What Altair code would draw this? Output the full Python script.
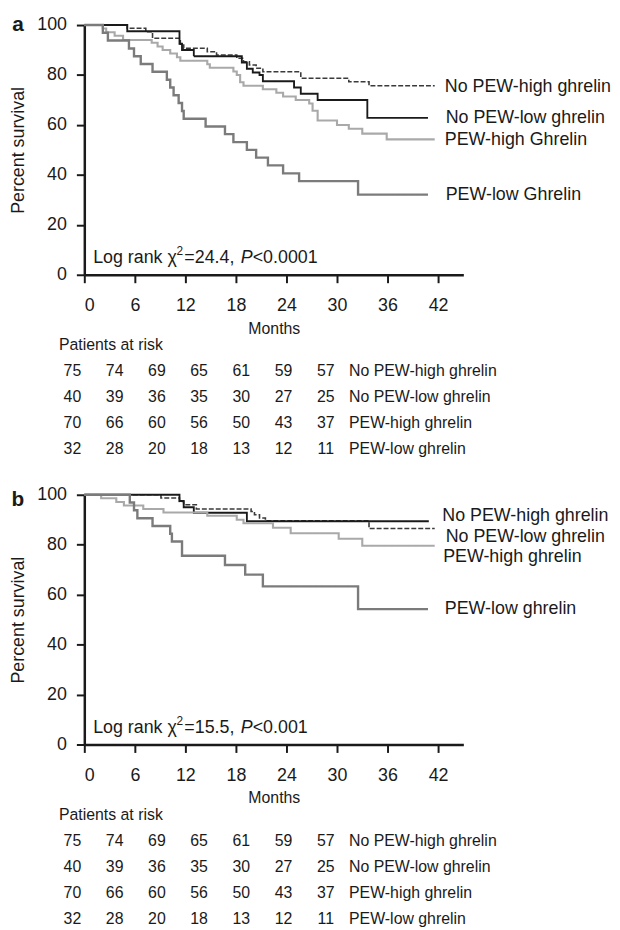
import altair as alt
import pandas as pd

FONT = "Liberation Sans, Arial, Helvetica, sans-serif"
INK = "#1a1a1a"

# ---------------- data ----------------
keys = ["nph", "npl", "ph", "pl"]
colors = ["#3a3a3a", "#1a1a1a", "#a9a9a9", "#7b7b7b"]
dashes = [[5, 2], [1, 0], [1, 0], [1, 0]]
widths = [1.6, 2.4, 2.4, 2.0]

# Panel a (Kaplan-Meier steps: month, percent survival)
a_nph_t = [0, 5.1, 7.3, 8.1, 11.4, 11.8, 14.6, 15.7, 18.1, 18.9, 19.6, 20.4, 21.2, 25.7, 31.4, 33.8, 41.6]
a_nph_s = [100, 98.7, 97.3, 94.7, 92.0, 90.7, 89.3, 88.0, 86.7, 85.3, 84.0, 82.7, 81.3, 78.7, 77.3, 75.7, 75.7]
a_npl_t = [0, 5.1, 11.3, 11.6, 13.0, 18.7, 19.3, 20.0, 20.8, 21.2, 24.9, 25.7, 27.7, 33.6, 40.8]
a_npl_s = [100, 97.5, 92.5, 90.0, 87.5, 85.0, 82.5, 81.0, 80.0, 77.5, 75.0, 72.5, 70.0, 62.8, 62.8]
a_ph_t = [0, 2.2, 2.6, 3.6, 4.6, 8.0, 8.7, 9.3, 10.2, 11.0, 11.4, 14.6, 14.9, 17.7, 18.1, 18.5, 18.9,
          21.2, 22.8, 23.6, 25.1, 26.7, 27.1, 27.7, 30.0, 31.4, 33.0, 35.9, 41.6]
a_ph_s = [100, 98.6, 97.1, 95.7, 94.0, 92.9, 91.4, 90.0, 88.6, 87.1, 85.7, 84.3, 82.9, 81.4, 80.0, 77.1, 75.7,
          74.3, 72.9, 71.4, 70.0, 68.6, 65.7, 61.8, 60.0, 58.5, 56.5, 54.2, 54.2]
a_pl_t = [0, 2.2, 2.8, 5.3, 5.9, 6.7, 8.1, 9.8, 10.2, 10.6, 11.2, 11.6, 11.8, 14.4, 16.7, 17.7, 19.3,
          20.4, 21.8, 23.6, 25.5, 32.5, 40.8]
a_pl_s = [100, 96.9, 93.8, 90.6, 87.5, 84.4, 81.3, 78.1, 75.0, 71.9, 68.8, 65.6, 62.5, 59.4, 56.3, 53.1, 50.0,
          46.9, 43.8, 40.6, 37.5, 32.1, 32.1]

# Panel b
b_nph_t = [0, 9.1, 11.3, 11.8, 13.3, 19.8, 20.2, 20.8, 21.5, 33.8, 41.6]
b_nph_s = [100, 98.7, 97.3, 96.0, 94.3, 93.3, 92.0, 90.7, 89.6, 86.5, 86.5]
b_npl_t = [0, 11.3, 11.8, 13.0, 19.3, 40.9]
b_npl_s = [100, 97.5, 95.0, 92.8, 89.4, 89.4]
b_ph_t = [0, 2.0, 3.8, 4.7, 7.0, 9.4, 14.6, 18.1, 18.9, 22.4, 24.5, 30.2, 33.0, 41.6]
b_ph_s = [100, 98.6, 97.1, 95.7, 94.3, 92.9, 91.6, 90.0, 88.6, 86.8, 84.6, 82.4, 79.6, 79.6]
b_pl_t = [0, 5.4, 5.9, 6.3, 8.1, 10.2, 10.4, 11.6, 16.7, 19.1, 21.2, 32.5, 40.8]
b_pl_s = [100, 96.9, 93.8, 90.6, 87.5, 84.4, 81.3, 75.6, 71.9, 68.0, 63.3, 54.2, 54.2]

# curve labels
a_labels = ["No PEW-high ghrelin", "No PEW-low ghrelin", "PEW-high Ghrelin", "PEW-low Ghrelin"]
a_label_x = [42.8, 42.9, 42.8, 42.9]
a_label_y = [75.0, 62.7, 53.9, 31.9]
b_labels = ["No PEW-high ghrelin", "No PEW-low ghrelin", "PEW-high ghrelin", "PEW-low ghrelin"]
b_label_x = [42.5, 42.9, 42.6, 42.8]
b_label_y = [91.6, 83.0, 74.9, 54.1]

# log-rank statistics
a_chi2, a_p = "24.4", "<0.0001"
b_chi2, b_p = "15.5", "<0.001"

# patients at risk (same table under both panels)
risk_groups = ["No PEW-high ghrelin", "No PEW-low ghrelin", "PEW-high ghrelin", "PEW-low ghrelin"]
risk_nph = [75, 74, 69, 65, 61, 59, 57]
risk_npl = [40, 39, 36, 35, 30, 27, 25]
risk_ph = [70, 66, 60, 56, 50, 43, 37]
risk_pl = [32, 28, 20, 18, 13, 12, 11]

x_ticks = [0, 6, 12, 18, 24, 30, 36, 42]
y_ticks = [0, 20, 40, 60, 80, 100]

W = 382.5
H = 252


def km_frame(ts, ss):
    rows = []
    for k, t_list, s_list in zip(keys, ts, ss):
        for i, (t, s) in enumerate(zip(t_list, s_list)):
            rows.append({"key": k, "t": t, "s": s, "i": i})
    return pd.DataFrame(rows)


def panel(letter, letter_dy, ts, ss, labels, lx, ly, chi2, pval):
    xs = alt.Scale(domain=[0, 45], nice=False, zero=False)
    ys = alt.Scale(domain=[0, 100], nice=False)
    df = km_frame(ts, ss)
    lines = alt.Chart(df).mark_line(interpolate="step-after").encode(
        x=alt.X("t:Q", scale=xs, axis=alt.Axis(
            values=x_ticks, title="Months", grid=False,
            domainColor=INK, domainWidth=2.5, tickColor=INK, tickWidth=2, tickSize=8,
            labelFont=FONT, labelFontSize=18, labelColor=INK, labelPadding=14,
            titleFont=FONT, titleFontSize=16, titleFontWeight="normal", titleColor=INK,
            titlePadding=6)),
        y=alt.Y("s:Q", scale=ys, axis=alt.Axis(
            values=y_ticks, title="Percent survival", grid=False,
            domainColor=INK, domainWidth=2.5, tickColor=INK, tickWidth=2, tickSize=8,
            labelFont=FONT, labelFontSize=18, labelColor=INK, labelPadding=10,
            titleFont=FONT, titleFontSize=18, titleFontWeight="normal", titleColor=INK,
            titlePadding=9)),
        color=alt.Color("key:N", scale=alt.Scale(domain=keys, range=colors), legend=None),
        strokeDash=alt.StrokeDash("key:N", scale=alt.Scale(domain=keys, range=dashes), legend=None),
        strokeWidth=alt.StrokeWidth("key:N", scale=alt.Scale(domain=keys, range=widths), legend=None),
        order=alt.Order("i:Q"),
    )
    ldf = pd.DataFrame({"label": labels, "x": lx, "y": ly})
    lab = alt.Chart(ldf).mark_text(align="left", baseline="middle", font=FONT, fontSize=18,
                                   color=INK).encode(
        x=alt.X("x:Q", scale=xs), y=alt.Y("y:Q", scale=ys), text="label:N")
    sdf = pd.DataFrame({"x": [1.05], "y": [4.6], "c": [chi2], "p": [pval]})
    base = alt.Chart(sdf).encode(x=alt.X("x:Q", scale=xs), y=alt.Y("y:Q", scale=ys))
    common = dict(align="left", baseline="alphabetic", font=FONT, color=INK)
    s1 = base.mark_text(fontSize=18, **common).encode(text=alt.value("Log rank \u03c7"))
    s2 = base.mark_text(fontSize=12, dx=84, dy=-8, **common).encode(text=alt.value("2"))
    s3 = base.mark_text(fontSize=18, dx=92, **common).transform_calculate(
        lbl="'=' + datum.c + ','").encode(text="lbl:N")
    s4 = base.mark_text(fontSize=18, dx=149, fontStyle="italic", **common).encode(text=alt.value("P"))
    s5 = base.mark_text(fontSize=18, dx=161, **common).encode(text="p:N")
    let = alt.Chart(sdf).mark_text(align="center", baseline="alphabetic", font=FONT, fontSize=21,
                                   fontWeight="bold", color=INK).encode(
        x=alt.value(-67), y=alt.value(letter_dy), text=alt.value(letter))
    plot = alt.layer(lines, lab, s1, s2, s3, s4, s5, let)

    # patients-at-risk table
    cx = alt.Scale(domain=[0, 6], range=[-12, 243.7])
    ry = alt.Scale(domain=[0, 4], range=[323, 428])
    trows = []
    for r, vals in enumerate([risk_nph, risk_npl, risk_ph, risk_pl]):
        for c, v in enumerate(vals):
            trows.append({"col": c, "row": r + 1, "n": v})
    tdf = pd.DataFrame(trows)
    nums = alt.Chart(tdf).mark_text(align="center", baseline="middle", font=FONT, fontSize=16,
                                    color=INK).encode(
        x=alt.X("col:Q", scale=cx, axis=None), y=alt.Y("row:Q", scale=ry, axis=None), text="n:Q")
    gdf = pd.DataFrame({"g": risk_groups, "row": [1, 2, 3, 4], "col": [6.55] * 4})
    gl = alt.Chart(gdf).mark_text(align="left", baseline="middle", font=FONT, fontSize=16,
                                  color=INK).encode(
        x=alt.X("col:Q", scale=cx, axis=None), y=alt.Y("row:Q", scale=ry, axis=None), text="g:N")
    hdf = pd.DataFrame({"h": ["Patients at risk"], "row": [0], "col": [-0.32]})
    hd = alt.Chart(hdf).mark_text(align="left", baseline="middle", font=FONT, fontSize=16,
                                  color=INK).encode(
        x=alt.X("col:Q", scale=cx, axis=None), y=alt.Y("row:Q", scale=ry, axis=None), text="h:N")
    return alt.layer(plot, nums, gl, hd).resolve_scale(x="independent", y="independent").properties(
        width=W, height=H)


pa = panel("a", 6, [a_nph_t, a_npl_t, a_ph_t, a_pl_t], [a_nph_s, a_npl_s, a_ph_s, a_pl_s],
           a_labels, a_label_x, a_label_y, a_chi2, a_p)
pb = panel("b", 11, [b_nph_t, b_npl_t, b_ph_t, b_pl_t], [b_nph_s, b_npl_s, b_ph_s, b_pl_s],
           b_labels, b_label_x, b_label_y, b_chi2, b_p)

chart = alt.vconcat(pa, pb, spacing=29).properties(
    padding={"left": 1, "top": 2, "right": 0, "bottom": 0},
    background="white",
).configure(font=FONT).configure_view(strokeWidth=0, stroke="transparent")

chart.save("out.html", embed_options={"renderer": "svg", "actions": False})
